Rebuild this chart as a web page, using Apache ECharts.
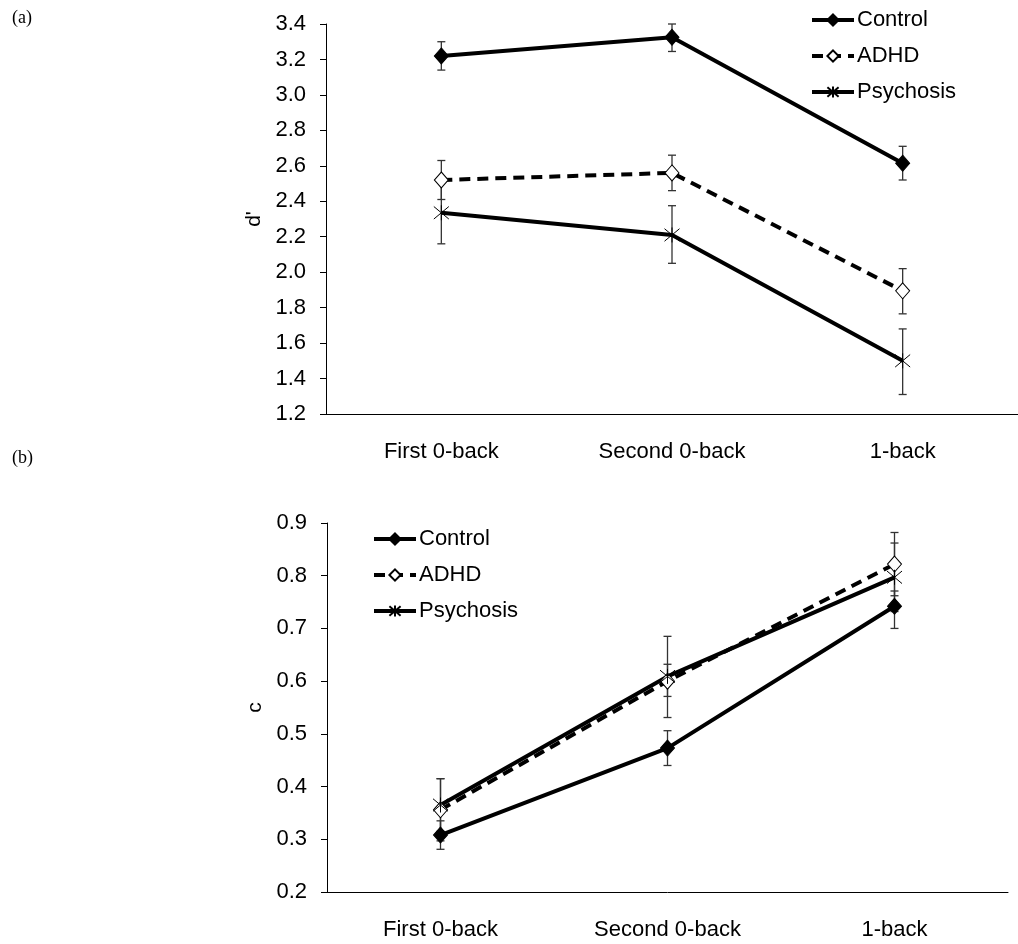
<!DOCTYPE html>
<html>
<head>
<meta charset="utf-8">
<script src="https://cdn.jsdelivr.net/npm/echarts@6/dist/echarts.min.js"></script>
<style>
    html, body { margin: 0; padding: 0; background: #fff; }
    #chart { width: 1018px; height: 944px; }
</style>
</head>
<body>
<div id="chart"></div>
<script>
    // 数据
    var categories = ['First 0-back', 'Second 0-back', '1-back'];
    var seriesNames = ['Control', 'ADHD', 'Psychosis'];

    // (a) d'
    var dControl = [3.22, 3.325, 2.615];
    var dControlLow = [3.14, 3.245, 2.52];
    var dControlHigh = [3.30, 3.40, 2.71];
    var dAdhd = [2.52, 2.56, 1.895];
    var dAdhdLow = [2.41, 2.46, 1.765];
    var dAdhdHigh = [2.63, 2.66, 2.02];
    var dPsy = [2.335, 2.21, 1.50];
    var dPsyLow = [2.16, 2.05, 1.31];
    var dPsyHigh = [2.51, 2.375, 1.68];

    // (b) c
    var cControl = [0.308, 0.473, 0.742];
    var cControlLow = [0.281, 0.44, 0.70];
    var cControlHigh = [0.335, 0.506, 0.771];
    var cAdhd = [0.356, 0.60, 0.822];
    var cAdhdLow = [0.297, 0.571, 0.762];
    var cAdhdHigh = [0.415, 0.632, 0.882];
    var cPsy = [0.365, 0.609, 0.797];
    var cPsyLow = [0.315, 0.531, 0.732];
    var cPsyHigh = [0.415, 0.685, 0.862];

    var font = "'Liberation Sans', Arial, sans-serif";
    var starPath = 'path://M0,0L10,10M10,0L0,10M5,-1L5,11';

    var myChart = echarts.init(document.getElementById('chart'));

    function errData(low, high) {
        var out = [];
        for (var i = 0; i < low.length; i++) {
            out.push([i, low[i], high[i]]);
        }
        return out;
    }

    // 误差线
    function errSeries(idx, low, high) {
        return {
            type: 'custom',
            xAxisIndex: idx,
            yAxisIndex: idx,
            z: 2,
            silent: true,
            data: errData(low, high),
            renderItem: function (params, api) {
                var top = api.coord([api.value(0), api.value(2)]);
                var bot = api.coord([api.value(0), api.value(1)]);
                var w = 4;
                var st = { stroke: '#333', lineWidth: 1.3 };
                return {
                    type: 'group',
                    children: [
                        { type: 'line', shape: { x1: top[0], y1: top[1], x2: bot[0], y2: bot[1] }, style: st },
                        { type: 'line', shape: { x1: top[0] - w, y1: top[1], x2: top[0] + w, y2: top[1] }, style: st },
                        { type: 'line', shape: { x1: bot[0] - w, y1: bot[1], x2: bot[0] + w, y2: bot[1] }, style: st }
                    ]
                };
            }
        };
    }

    function lineSeries(idx, name, values) {
        var s = {
            name: name,
            type: 'line',
            xAxisIndex: idx,
            yAxisIndex: idx,
            data: values,
            z: 3,
            lineStyle: { color: '#000', width: 4, type: 'solid' },
            symbolSize: [14, 16],
            symbol: 'diamond',
            itemStyle: { color: '#000', borderColor: '#000', borderWidth: 1 }
        };
        if (name == 'ADHD') {
            s.lineStyle.type = [11, 7];
            s.itemStyle.color = '#fff';
        }
        if (name == 'Psychosis') {
            s.symbol = starPath;
            s.symbolSize = [15, 15];
            s.itemStyle = { color: 'none', borderColor: '#000', borderWidth: 1 };
        }
        return s;
    }

    function xAxisCfg(idx) {
        return {
            type: 'category',
            gridIndex: idx,
            data: categories,
            boundaryGap: true,
            axisLine: { lineStyle: { color: '#000', width: 1 } },
            axisTick: { length: 6, lineStyle: { color: '#000' } },
            axisLabel: { color: '#000', fontFamily: font, fontSize: 22, margin: 27 }
        };
    }

    function yAxisCfg(idx, name, min, max, interval) {
        return {
            type: 'value',
            gridIndex: idx,
            name: name,
            nameLocation: 'middle',
            nameGap: 58,
            nameTextStyle: { color: '#000', fontFamily: font, fontSize: 21 },
            min: min,
            max: max,
            interval: interval,
            splitLine: { show: false },
            axisLine: { show: true, lineStyle: { color: '#000', width: 1 } },
            axisTick: { show: true, length: 6, lineStyle: { color: '#000' } },
            axisLabel: {
                color: '#000', fontFamily: font, fontSize: 22, margin: 20,
                formatter: function (v) { return v.toFixed(1); }
            }
        };
    }

    function legendCfg(left, top) {
        return {
            data: seriesNames,
            orient: 'vertical',
            left: left,
            top: top,
            itemWidth: 42,
            itemHeight: 14,
            itemGap: 14,
            padding: 0,
            lineStyle: { width: 4 },
            textStyle: { color: '#000', fontFamily: font, fontSize: 22, lineHeight: 22, padding: [0, 0, 0, -2] }
        };
    }

    var option = {
        backgroundColor: '#fff',
        animation: false,
        grid: [
            { left: 326, top: 24, width: 697, height: 390 },
            { left: 327, top: 523, width: 681, height: 369 }
        ],
        xAxis: [xAxisCfg(0), xAxisCfg(1)],
        yAxis: [
            yAxisCfg(0, "d'", 1.2, 3.4, 0.2),
            yAxisCfg(1, 'c', 0.2, 0.9, 0.1)
        ],
        legend: [legendCfg(810, 9), legendCfg(372, 528)],
        graphic: [
            { type: 'text', left: 12, top: 9, style: { text: '(a)', font: "18px 'Liberation Serif', serif", fill: '#000' } },
            { type: 'text', left: 12, top: 449, style: { text: '(b)', font: "18px 'Liberation Serif', serif", fill: '#000' } }
        ],
        series: [
            errSeries(0, dControlLow, dControlHigh),
            errSeries(0, dAdhdLow, dAdhdHigh),
            errSeries(0, dPsyLow, dPsyHigh),
            lineSeries(0, 'Control', dControl),
            lineSeries(0, 'ADHD', dAdhd),
            lineSeries(0, 'Psychosis', dPsy),
            errSeries(1, cControlLow, cControlHigh),
            errSeries(1, cAdhdLow, cAdhdHigh),
            errSeries(1, cPsyLow, cPsyHigh),
            lineSeries(1, 'Control', cControl),
            lineSeries(1, 'ADHD', cAdhd),
            lineSeries(1, 'Psychosis', cPsy)
        ]
    };

    myChart.setOption(option);
</script>
</body>
</html>
